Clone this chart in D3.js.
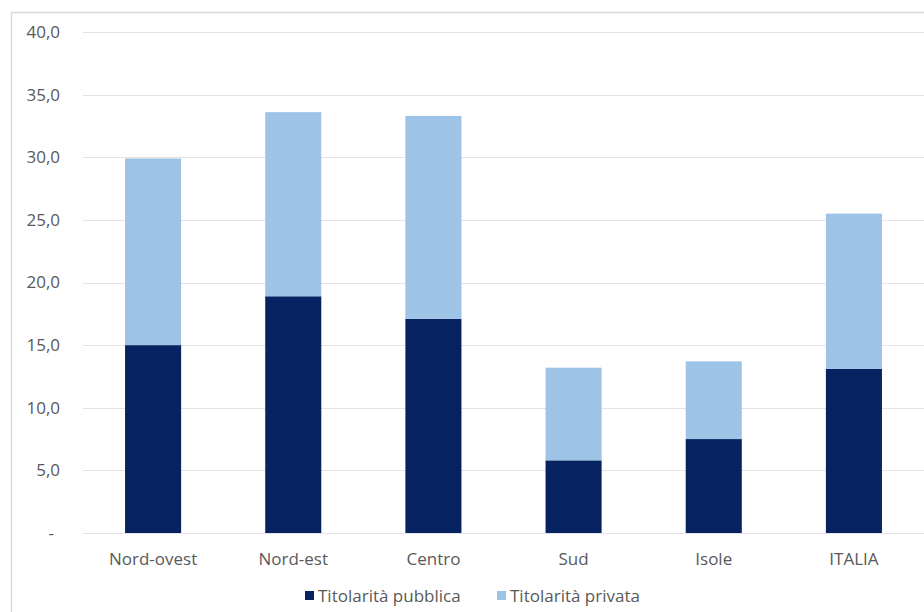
<!DOCTYPE html>
<html>
<head>
<meta charset="utf-8">
<script src="https://cdn.jsdelivr.net/npm/d3@7"></script>
<style>
  html, body { margin: 0; padding: 0; background: #fff; }
  svg { display: block; }
  text { font-family: "Open Sans", Lato, sans-serif; fill: #595959; }
</style>
</head>
<body>
<svg id="chart" width="924" height="612"></svg>
<script>
const categories = ["Nord-ovest", "Nord-est", "Centro", "Sud", "Isole", "ITALIA"];
const pubblica = [15.0, 18.9, 17.1, 5.8, 7.5, 13.1];
const privata = [14.9, 14.7, 16.2, 7.4, 6.2, 12.4];
const seriesNames = ["Titolarità pubblica", "Titolarità privata"];
const yTicks = [0, 5, 10, 15, 20, 25, 30, 35, 40];

const colors = ["#062261", "#9dc3e6"];

const svg = d3.select("#chart");

// Chart frame
svg.append("rect")
  .attr("x", 11.5).attr("y", 12.5)
  .attr("width", 940).attr("height", 620)
  .attr("fill", "none").attr("stroke", "#d9d9d9").attr("stroke-width", 1.5);

const x = d3.scaleBand().domain(categories).range([83, 924]).paddingInner(0.6).paddingOuter(0.3);
const y = d3.scaleLinear().domain([0, 40]).range([533, 32]);

// Gridlines
svg.append("g").selectAll("line").data(yTicks).join("line")
  .attr("x1", 83).attr("x2", 924)
  .attr("y1", d => Math.round(y(d)) + 0.5).attr("y2", d => Math.round(y(d)) + 0.5)
  .attr("stroke", "#e3e3e3").attr("stroke-width", 1.2);

const fs = "17px";

// Y axis labels
const fmt = d => d === 0 ? "-" : d.toFixed(1).replace(".", ",");
const yAxis = d3.axisLeft(y).tickValues(yTicks).tickFormat(fmt).tickSize(0).tickPadding(0);
const gy = svg.append("g").attr("transform", "translate(60,0)").call(yAxis);
gy.select(".domain").remove();
gy.selectAll("text").style("font-size", fs).attr("fill", "#595959")
  .attr("dx", d => d === 0 ? "-6" : "0");

// Stack
const data = categories.map((c, i) => ({ cat: c, pubblica: pubblica[i], privata: privata[i] }));
const stack = d3.stack().keys(["pubblica", "privata"])(data);

svg.append("g").selectAll("g").data(stack).join("g")
  .attr("fill", (d, i) => colors[i])
  .selectAll("rect").data(d => d).join("rect")
  .attr("x", d => x(d.data.cat))
  .attr("width", x.bandwidth())
  .attr("y", d => y(d[1]))
  .attr("height", d => y(d[0]) - y(d[1]));

// X axis labels
const xAxis = d3.axisBottom(x).tickSize(0).tickPadding(0);
const gx = svg.append("g").attr("transform", "translate(0,553)").call(xAxis);
gx.select(".domain").remove();
gx.selectAll("text").style("font-size", fs).attr("fill", "#595959");

// Legend
const legendX = [305, 497];
const lg = svg.append("g");
seriesNames.forEach((name, i) => {
  lg.append("rect").attr("x", legendX[i]).attr("y", 591).attr("width", 9).attr("height", 9).attr("fill", colors[i]);
  lg.append("text").attr("x", legendX[i] + 13).attr("y", 602).text(name).style("font-size", fs);
});
</script>
</body>
</html>
